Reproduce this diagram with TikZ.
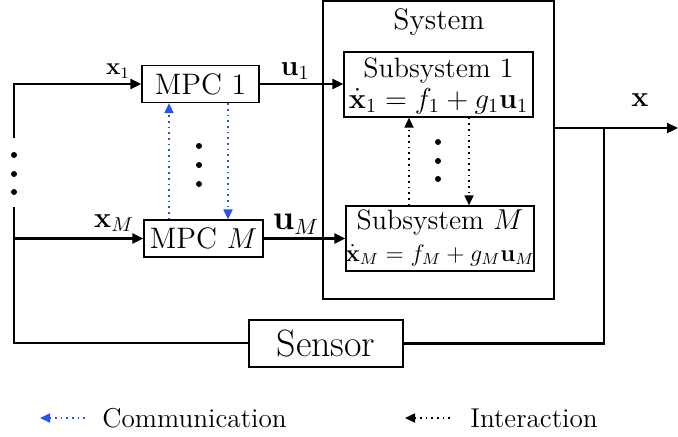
\documentclass[tikz,border=0pt]{standalone}
\usetikzlibrary{arrows.meta}
\definecolor{commblue}{RGB}{40,80,245}
\newcommand{\fs}[1]{\fontsize{#1}{#1}\selectfont}
\begin{document}
\begin{tikzpicture}[x=0.5pt,y=-0.5pt,
  box/.style={draw,line width=0.6pt,inner sep=0pt,align=center},
  line/.style={inner sep=0pt},
  sig/.style={line width=1.1pt,-{Triangle[length=5.5pt,width=5pt]}},
  wire/.style={line width=1.1pt},
  comm/.style={commblue,line width=0.85pt,dotted,-{Triangle[length=5pt,width=4.5pt]}},
  inter/.style={black,line width=0.85pt,dotted,-{Triangle[length=5pt,width=4.5pt]}},
  dot/.style={circle,fill=black,inner sep=0pt,minimum size=3pt}]
\useasboundingbox (0,0) rectangle (678,436);

% blocks
\node[box,minimum width=115.5pt,minimum height=149pt] (sys) at (438.5,150) {};
\node[font=\fs{14.8}] (systxt) at (439,22) {System};
\node[box,minimum width=58.5pt,minimum height=18.5pt,font=\fs{14.8}] (mpc1) at (200.5,84) {MPC 1};
\node[box,minimum width=59.5pt,minimum height=18.5pt,font=\fs{14.8}] (mpcM) at (203.5,238.5) {MPC $M$};
\node[box,minimum width=94.5pt,minimum height=32.5pt] (sub1) at (438.5,84.5) {};
\node[line,font=\fs{14},anchor=base] (sub1a) at (438.5,77) {Subsystem 1};
\node[line,font=\fs{14.4},anchor=base] (sub1b) at (438.5,108) {$\dot{\mathbf{x}}_1 = f_1 + g_1\mathbf{u}_1$};
\node[box,minimum width=94pt,minimum height=32.5pt] (subM) at (440,238.5) {};
\node[line,font=\fs{14},anchor=base] (subMa) at (440,229) {Subsystem $M$};
\node[line,font=\fs{12},anchor=base] (subMb) at (440,261) {$\dot{\mathbf{x}}_M = f_M + g_M\mathbf{u}_M$};
\node[box,minimum width=77pt,minimum height=23.5pt,font=\fs{19}] (sensor) at (326,343.5) {Sensor};

% feedback path and inputs
\coordinate (lbot) at (14,343);
\coordinate (lmid) at (14,207);
\coordinate (ltop) at (14,138);
\coordinate (xout) at (678,128);
\coordinate (br) at (604,128);
\draw[wire] (sensor.west |- lbot) -- (lbot) -- (lmid);
\draw[sig] (ltop) |- (mpc1.west);
\draw[sig] (lmid |- mpcM.west) -- (mpcM.west);
\node[dot] (ld1) at (14,155) {};
\node[dot] (ld2) at (14,174) {};
\node[dot] (ld3) at (14,192) {};

% controls into subsystems
\draw[sig] (mpc1.east) -- (mpc1.east -| sub1.west);
\draw[sig] (mpcM.east) -- (mpcM.east -| subM.west);

% output and measurement
\draw[sig] (sys.east |- xout) -- (xout);
\draw[wire] (br) |- (sensor.east);

% labels
\node[font=\fs{12}] (lx1) at (118,71) {$\mathbf{x}_1$};
\node[font=\fs{14.8}] (lu1) at (295,71) {$\mathbf{u}_1$};
\node[font=\fs{14}] (lxM) at (114,223) {$\mathbf{x}_M$};
\node[font=\fs{16}] (luM) at (296,224) {$\mathbf{u}_M$};
\node[font=\fs{15.6}] (lx) at (640,100) {$\mathbf{x}$};

% communication between controllers
\draw[comm] (mpcM.north -| 169,0) -- (mpc1.south -| 169,0);
\draw[comm] (mpc1.south -| 228,0) -- (mpcM.north -| 228,0);
\node[dot] (cd1) at (199,146) {};
\node[dot] (cd2) at (199,165) {};
\node[dot] (cd3) at (199,184) {};

% interaction between subsystems
\draw[inter] (subM.north -| 409,0) -- (sub1.south -| 409,0);
\draw[inter] (sub1.south -| 469,0) -- (subM.north -| 469,0);
\node[dot] (sd1) at (438,142) {};
\node[dot] (sd2) at (438,161) {};
\node[dot] (sd3) at (438,179) {};

% legend
\coordinate (c0) at (85,418);
\coordinate (c1) at (40,418);
\draw[comm] (c0) -- (c1);
\node[font=\fs{13.6},anchor=west,inner sep=0pt] (lcomm) at (102,418) {Communication};
\coordinate (i0) at (450,418);
\coordinate (i1) at (405,418);
\draw[inter] (i0) -- (i1);
\node[font=\fs{13.6},anchor=west,inner sep=0pt] (linter) at (470,418) {Interaction};
\end{tikzpicture}
\end{document}
